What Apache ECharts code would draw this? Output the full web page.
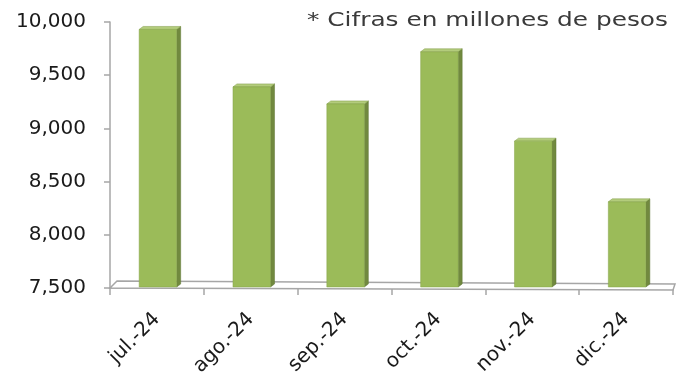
<!DOCTYPE html>
<html>
<head>
<meta charset="utf-8">
<script src="https://cdn.jsdelivr.net/npm/echarts@6/dist/echarts.min.js"></script>
<style>
  html, body { margin: 0; padding: 0; background: #fff; }
  #chart { width: 677px; height: 379px; }
</style>
</head>
<body>
<div id="chart"></div>
<script>
// Monthly amounts (millions of pesos)
const months = ['jul.-24', 'ago.-24', 'sep.-24', 'oct.-24', 'nov.-24', 'dic.-24'];
const amounts = [9930, 9390, 9230, 9720, 8880, 8310];
const yTicks = [7500, 8000, 8500, 9000, 9500, 10000];
const note = '* Cifras en millones de pesos';

const Y_MIN = yTicks[0];
const Y_MAX = yTicks[yTicks.length - 1];
const FONT = 'DejaVu Sans';

const chart = echarts.init(document.getElementById('chart'), null, { renderer: 'canvas' });

// Pseudo-3D column: front face, darker right side and lighter top
function renderBar(params, api) {
  const idx = api.value(0);
  const top = api.coord([idx, api.value(1)]);
  const base = api.coord([idx, Y_MIN]);
  const bw = api.size([1, 0])[0] * 0.40;
  const xl = top[0] - bw / 2 + 1;
  const xr = xl + bw;
  const dx = 4, dy = -3;
  const yb = base[1] - 1;
  return {
    type: 'group',
    children: [
      {
        type: 'polygon',
        shape: { points: [[xr, top[1]], [xr + dx, top[1] + dy], [xr + dx, yb + dy], [xr, yb]] },
        style: { fill: '#71893F', stroke: '#5F7434', lineWidth: 0.5 }
      },
      {
        type: 'polygon',
        shape: { points: [[xl, top[1]], [xl + dx, top[1] + dy], [xr + dx, top[1] + dy], [xr, top[1]]] },
        style: { fill: '#B3CC7C', stroke: '#7E9A45', lineWidth: 0.5 }
      },
      {
        type: 'rect',
        shape: { x: xl, y: top[1], width: bw, height: yb - top[1] },
        style: { fill: '#9BBB59', stroke: '#86A44A', lineWidth: 0.5 }
      }
    ]
  };
}

// Chart floor drawn from the grid rectangle
function renderFloor(params, api) {
  const cs = params.coordSys;
  const yf = cs.y + cs.height;
  const d = 7;
  return {
    type: 'polygon',
    shape: { points: [[cs.x, yf], [cs.x + d, yf - d], [cs.x + cs.width + 2, yf - d + 3], [cs.x + cs.width, yf + 2]] },
    style: { fill: '#FFFFFF', stroke: '#A6A6A6', lineWidth: 1.5 },
    z2: 0
  };
}

chart.setOption({
  animation: false,
  backgroundColor: '#ffffff',
  graphic: [{
    type: 'text',
    left: 307,
    top: 11,
    scaleX: 1.24,
    style: { text: note, font: '20px "DejaVu Sans"', fill: '#3a3a3a' }
  }],
  grid: { left: 110, right: 4, top: 22, bottom: 91, containLabel: false },
  xAxis: {
    type: 'category',
    data: months,
    boundaryGap: true,
    axisLine: { show: true, lineStyle: { color: '#A6A6A6', width: 1.5 } },
    axisTick: { show: true, alignWithLabel: false, length: 7, lineStyle: { color: '#A6A6A6', width: 1.5 } },
    axisLabel: {
      rotate: 45,
      margin: 28,
      fontFamily: FONT,
      fontSize: 20,
      color: '#1a1a1a'
    },
    splitLine: { show: false }
  },
  yAxis: {
    type: 'value',
    min: Y_MIN,
    max: Y_MAX,
    interval: yTicks[1] - yTicks[0],
    axisLine: { show: true, lineStyle: { color: '#A6A6A6', width: 1.5 } },
    axisTick: { show: true, length: 6, lineStyle: { color: '#A6A6A6', width: 1.5 } },
    axisLabel: {
      margin: 24,
      fontFamily: FONT,
      fontSize: 20,
      color: '#1a1a1a',
      formatter: v => v.toLocaleString('en-US')
    },
    splitLine: { show: false }
  },
  series: [
    {
      type: 'custom',
      renderItem: renderFloor,
      data: [[0, Y_MIN]],
      encode: { x: 0, y: 1 },
      silent: true,
      z: 1
    },
    {
      type: 'custom',
      renderItem: renderBar,
      data: amounts.map((v, i) => [i, v]),
      encode: { x: 0, y: 1 },
      z: 3
    }
  ]
});
</script>
</body>
</html>
